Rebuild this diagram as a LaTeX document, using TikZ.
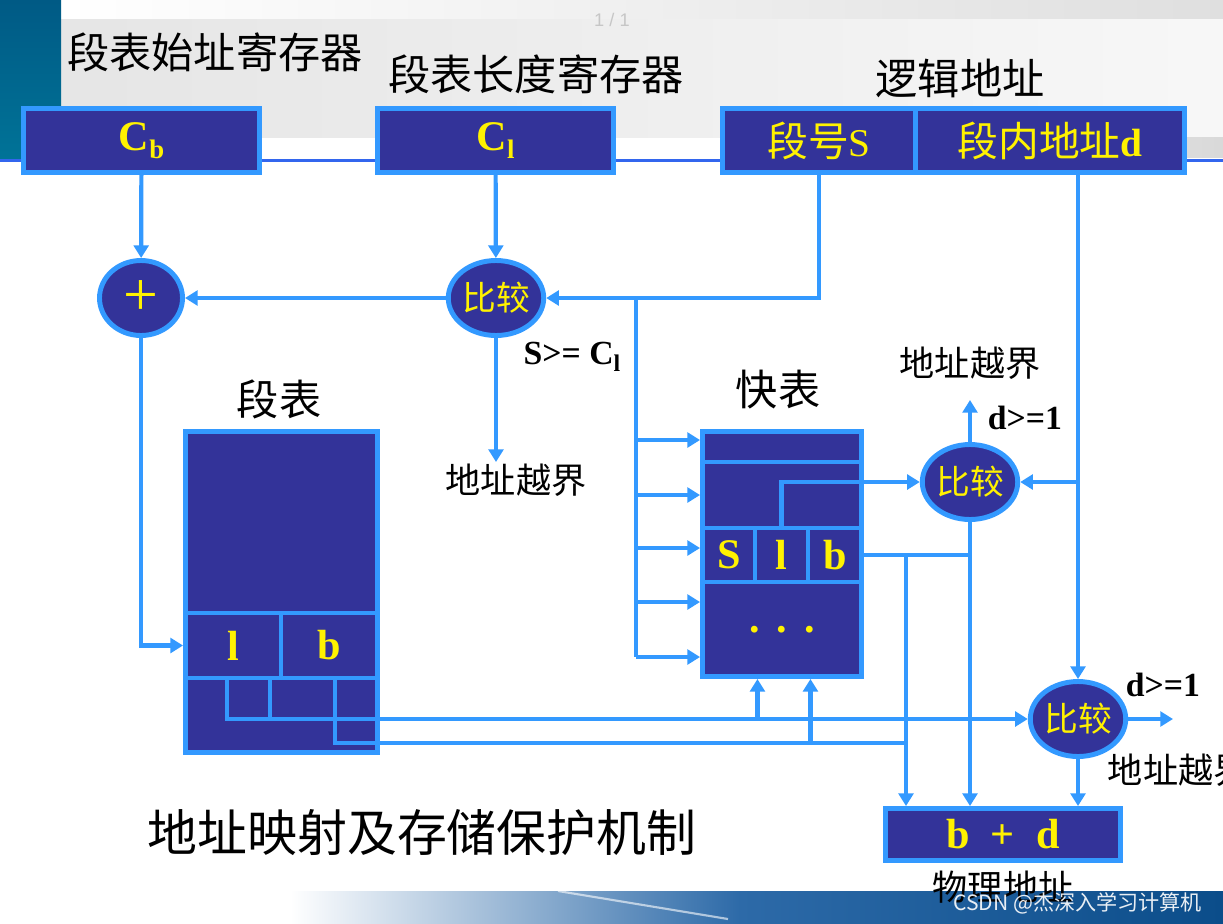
\documentclass[tikz,border=0pt]{standalone}
\usepackage{fontspec}
\setmainfont{Liberation Serif}
\newfontfamily\cjk{Noto Sans CJK SC}
\newfontfamily\uisans{Liberation Sans}
\usepackage{tikz}
\usetikzlibrary{positioning, arrows.meta, shapes.geometric}
\definecolor{navy}{HTML}{333399}
\definecolor{wireblue}{HTML}{3399FF}
\definecolor{rulecol}{HTML}{3366EE}
\definecolor{tealbar}{HTML}{005A85}
\definecolor{bandmid}{HTML}{2D6AA8}
\definecolor{banddark}{HTML}{0B4D8A}
\newcommand{\fsz}[1]{\fontsize{#1}{#1}\selectfont}
\newcommand{\pxu}{0.025cm}
\newcommand{\lowsub}[1]{\raisebox{-6pt}{\fsz{19}#1}}
\tikzset{
    regbox/.style={rectangle, draw=wireblue, fill=navy, line width=3.5pt, inner sep=0pt, text=yellow},
    cell/.style={regbox, font=\bfseries\fsz{30}},
    cmp/.style={ellipse, draw=wireblue, fill=navy, line width=3.5pt, inner sep=0pt, minimum width=83*\pxu, minimum height=75*\pxu, text=yellow, font=\cjk\fsz{24}},
    lbl/.style={font=\cjk\fsz{30}},
    warn/.style={font=\cjk\fsz{25}},
    cond/.style={font=\bfseries\fsz{24}},
    wire/.style={draw=wireblue, line width=3pt},
    arr/.style={wire, -{Triangle[width=10.5pt, length=9pt]}}
}
\begin{document}
\begin{tikzpicture}[x=\pxu, y=-\pxu]
        \useasboundingbox (0,0) rectangle (1223,923);
        % Slide background
        \fill[white] (0,0) rectangle (1223,923);
        \shade[left color=white, right color=gray!25] (61,0) rectangle (1223,19);
        \shade[left color=gray!20, right color=gray!6] (61,19) rectangle (1223,137);
        \shade[left color=white, right color=gray!30] (760,137) rectangle (1223,157);
        \shade[top color=tealbar, bottom color=tealbar!85!cyan] (0,0) rectangle (61,158);
        \fill[rulecol] (0,158.5) rectangle (1223,161.5);
        \shade[left color=white, right color=bandmid] (290,891) rectangle (740,923);
        \shade[left color=bandmid, right color=banddark] (739,891) rectangle (1223,923);
        \draw[white, opacity=0.6, line width=1.5pt] (558,891) -- (728,919);
        \node[font=\uisans\fsz{13}, text=gray!45] (pg) at (612,20) {1 / 1};

        % Registers
        \node[regbox, minimum width=236*\pxu, minimum height=64*\pxu, font=\bfseries\fsz{30}] (cb) at (141.5,140.5) {C\lowsub{b}};
        \node[regbox, minimum width=236*\pxu, minimum height=64*\pxu, font=\bfseries\fsz{30}] (cl) at (495.5,140.5) {C\lowsub{l}};
        \node[regbox, minimum width=193.5*\pxu, minimum height=64*\pxu, font=\cjk\fsz{29}] (segno) at (819,140.5) {段号{\rmfamily\fsz{28}S}};
        \node[regbox, minimum width=268.5*\pxu, minimum height=64*\pxu, font=\cjk\fsz{29}] (offs) at (1050,140.5) {段内地址{\rmfamily\bfseries\fsz{28}d}};
        \node[lbl] (cbname) at (215,52) {段表始址寄存器};
        \node[lbl] (clname) at (536,74) {段表长度寄存器};
        \node[lbl] (laname) at (960,78) {逻辑地址};

        % Adder and comparators
        \node[cmp, font=\rmfamily\fsz{44}] (plus) at (141,298) {+};
        \node[cmp] (cmp1) at (496,298) {比较};
        \node[cmp] (cmp2) at (970,482) {比较};
        \node[cmp] (cmp3) at (1078,719) {比较};

        % Segment table
        \node[regbox, minimum width=192*\pxu, minimum height=181.5*\pxu] (stop) at (281.5,522.25) {};
        \node[cell, minimum width=95.5*\pxu, minimum height=65*\pxu] (sl) at (233.25,645.5) {l};
        \node[cell, minimum width=96.5*\pxu, minimum height=65*\pxu] (sb) at (329.25,645.5) {b};
        \node[regbox, minimum width=192*\pxu, minimum height=74.5*\pxu] (sbot) at (281.5,715.25) {};
        \node[lbl] (stname) at (279,399) {段表};

        % Fast table
        \node[regbox, minimum width=159*\pxu, minimum height=30.5*\pxu] (k1) at (782,446.75) {};
        \node[regbox, minimum width=159*\pxu, minimum height=66*\pxu] (k2) at (782,495) {};
        \node[cell, minimum width=52.5*\pxu, minimum height=54*\pxu] (ks) at (728.75,555) {S};
        \node[cell, minimum width=53*\pxu, minimum height=54*\pxu] (kl) at (781.5,555) {l};
        \node[cell, minimum width=53.5*\pxu, minimum height=54*\pxu] (kb) at (834.75,555) {b};
        \node[cell, minimum width=159*\pxu, minimum height=94.5*\pxu] (k4) at (782,629.25) {.\hspace{12pt}.\hspace{12pt}.};
        \node[lbl] (ktname) at (778,390) {快表};

        % Physical address
        \node[cell, minimum width=235*\pxu, minimum height=52*\pxu] (pa) at (1003,834.5) {b\hspace{0.5em}+\hspace{0.5em}d};
        \node[warn] (phys) at (1003,887) {物理地址};

        % Texts
        \node[warn] (ov1) at (516,480) {地址越界};
        \node[cond] (c1) at (572,357) {S>= C\raisebox{-5pt}{\fsz{17}l}};
        \node[warn] (ov2) at (970,363) {地址越界};
        \node[cond] (c2) at (1025,418) {d>=1};
        \node[cond] (c3) at (1163,685) {d>=1};
        \node[warn, anchor=west] (ov3) at (1103,770) {地址越界};
        \node[font=\cjk\fsz{35.5}] (title) at (422,833) {地址映射及存储保护机制};
        \node[font=\cjk\fsz{15}, text=white, opacity=0.9, anchor=east] (mark) at (1207,903) {CSDN @杰深入学习计算机};

        % Free ends and junctions
        \coordinate (fork) at (636,298);
        \coordinate (ov1tip) at (496,462);
        \coordinate (up2) at (970,400);
        \coordinate (out3) at (1173,719);
        \coordinate (jb) at (906,555);
        \coordinate (lout) at (227,678);
        \coordinate (mid) at (270,678);
        \coordinate (bout) at (335,678);

        % Edges
        \draw[arr] (cb) -- (plus);
        \draw[arr] (cl) -- (cmp1);
        \draw[arr] (segno.south) |- (cmp1.east);
        \draw[arr] (cmp1) -- (plus);
        \draw[arr] (cmp1) -- (ov1tip);
        \draw[arr] (plus.south) |- (sl.west);
        \draw[wire] (fork) -- (636,657);
        \foreach \yy in {440,495,548,602,657}
            \draw[arr] (636,\yy) -- (k1.west |- 0,\yy);
        \draw[arr] (kl.north) |- (cmp2.west);
        \draw[arr] (offs.south -| cmp3.north) -- (cmp3.north);
        \draw[arr] (cmp3.north |- cmp2.east) -- (cmp2.east);
        \draw[arr] (cmp2.north) -- (up2);
        \draw[wire] (kb.east) -- (kb.east -| cmp2.south);
        \draw[arr] (cmp2.south) -- (cmp2.south |- pa.north);
        \draw[arr] (jb) -- (jb |- pa.north);
        \draw[arr] (lout) |- (cmp3.west);
        \draw[wire] (mid) -- (mid |- cmp3.west);
        \draw[wire] (bout) |- (jb |- 0,743);
        \draw[arr] (ks.east |- cmp3.west) -- (ks.east |- k4.south);
        \draw[arr] (kl.east |- 0,743) -- (kl.east |- k4.south);
        \draw[arr] (cmp3.east) -- (out3);
        \draw[arr] (cmp3.south) -- (cmp3.south |- pa.north);

    \end{tikzpicture}
\end{document}
